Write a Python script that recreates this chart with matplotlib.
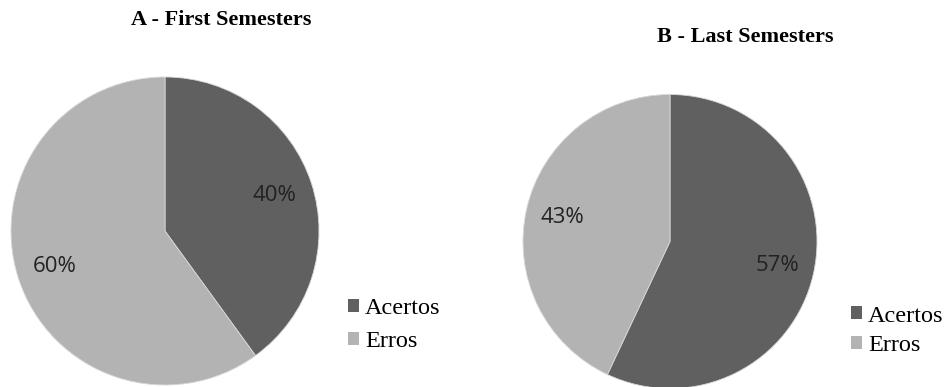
import matplotlib.pyplot as plt
from matplotlib.patches import Patch

# answers per group of semesters
labels = ['Acertos', 'Erros']
first_semesters = [40, 60]
last_semesters = [57, 43]
colors = ['#606060', '#b3b3b3']

W, H = 946, 387
fig = plt.figure(figsize=(W / 100, H / 100), dpi=100)


def pie_axes(cx, cy, r):
    # place a square axes by its centre and radius in pixels
    return fig.add_axes([(cx - r) / W, (H - cy - r) / H, 2 * r / W, 2 * r / H])


def draw_pie(ax, values, pctdist):
    ax.pie(values, colors=colors, startangle=90, counterclock=False,
           autopct='%1.0f%%', pctdistance=pctdist,
           wedgeprops={'linewidth': 0.6, 'edgecolor': '#d8d8d8'},
           textprops={'fontsize': 16, 'family': 'Open Sans', 'color': '#222222'})
    ax.set_xlim(-1.0, 1.0)
    ax.set_ylim(-1.0, 1.0)
    ax.set_aspect('equal')
    ax.axis('off')


ax1 = pie_axes(165, 231, 154)
draw_pie(ax1, first_semesters, 0.75)
ax2 = pie_axes(670, 241.5, 147)
draw_pie(ax2, last_semesters, 0.75)

serif = 'Liberation Serif'
fig.text(221 / W, 1 - 20 / H, 'A - First Semesters', ha='center', va='center',
         fontsize=16, fontweight='bold', family=serif)
fig.text(745 / W, 1 - 37 / H, 'B - Last Semesters', ha='center', va='center',
         fontsize=16, fontweight='bold', family=serif)

handles = [Patch(facecolor=c, edgecolor='none') for c in colors]
for x, y, gap in [(348, 325, 0.48), (851, 331, 0.36)]:
    fig.legend(handles, labels, loc='center left',
               bbox_to_anchor=(x / W, 1 - y / H), frameon=False,
               prop={'family': serif, 'size': 17.5},
               handlelength=0.45, handleheight=0.45, handletextpad=0.25,
               labelspacing=gap, borderpad=0, borderaxespad=0)

fig.savefig('out.png', dpi=100, facecolor='white')
